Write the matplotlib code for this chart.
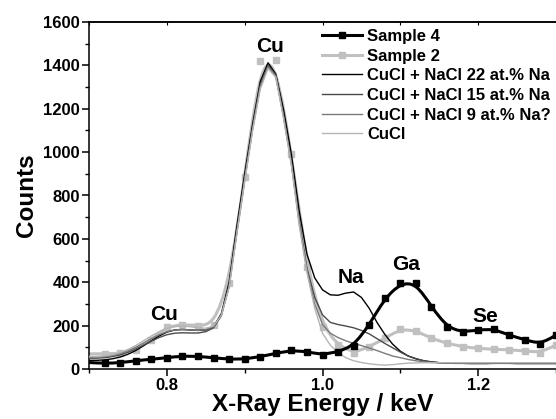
import numpy as np
import matplotlib
matplotlib.use("Agg")
import matplotlib.pyplot as plt
from matplotlib.ticker import MultipleLocator
from matplotlib.path import Path
from matplotlib.patches import PathPatch
from matplotlib.lines import Line2D

plt.rcParams['font.family'] = ['Liberation Sans', 'DejaVu Sans']
plt.rcParams['font.weight'] = 'bold'

# measured spectra, one point every 0.02 keV
energy_meas = np.round(np.arange(0.70, 1.301, 0.02), 2)
sample4 = [30, 26, 29, 38, 45, 52, 60, 58, 52, 45, 46, 57, 72, 86, 80, 65,
           80, 106, 203, 326, 395, 398, 287, 192, 170, 180, 185, 155, 136, 113, 157]
sample2 = [70, 70, 72, 88, 134, 195, 205, 200, 203, 395, 887, 1418, 1425, 993, 472, 195,
           111, 72, 103, 141, 185, 177, 141, 118, 103, 95, 91, 88, 84, 75, 111]

# simulated spectra, one point every 0.01 keV
energy_sim = np.round(np.arange(0.70, 1.301, 0.01), 2)
sim_22 = [40, 40, 42, 47, 55, 68, 85, 107, 130, 152, 170, 180, 182, 180, 178, 180, 195, 255,
          400, 660, 900, 1125, 1325, 1412, 1360, 1195, 990, 730, 530, 420, 365, 342, 340, 350,
          355, 330, 280, 215, 160, 115, 82, 60, 47, 38, 33, 29,
          27, 26, 26, 25, 25, 25, 26, 26, 26, 25, 25, 25, 25, 25, 25]
sim_15 = [50, 50, 52, 57, 65, 77, 92, 110, 128, 145, 158, 165, 167, 166, 166, 172, 190, 245,
          385, 640, 880, 1110, 1310, 1400, 1355, 1170, 955, 685, 465, 330, 250, 215, 205, 198,
          190, 178, 162, 140, 118, 98, 78, 60, 48, 38, 32, 29,
          28, 27, 27, 27, 27, 27, 28, 28, 28, 27, 27, 27, 27, 27, 27]
sim_9 = [55, 55, 57, 62, 71, 84, 100, 120, 140, 158, 172, 180, 182, 180, 178, 182, 195, 248,
         380, 630, 870, 1100, 1300, 1393, 1350, 1160, 945, 675, 455, 300, 205, 165, 145, 130,
         118, 108, 97, 85, 72, 60, 52, 44, 38, 33, 30, 29,
         28, 28, 28, 28, 28, 28, 28, 28, 28, 28, 28, 28, 28, 28, 28]
sim_cucl = [58, 58, 60, 66, 76, 90, 108, 130, 152, 172, 188, 196, 198, 195, 190, 188, 198, 248,
            375, 625, 865, 1095, 1290, 1385, 1345, 1155, 940, 665, 445, 280, 165, 110, 75, 52,
            38, 30, 24, 20, 18, 20, 24, 27, 28, 29, 29, 29,
            29, 29, 29, 29, 29, 29, 29, 29, 29, 29, 29, 29, 29, 29, 29]

labels = ["Sample 4", "Sample 2", "CuCl + NaCl 22 at.% Na", "CuCl + NaCl 15 at.% Na",
          "CuCl + NaCl 9 at.% Na?", "CuCl"]
peaks = [("Cu", 0.933, 1485), ("Cu", 0.797, 249), ("Na", 1.036, 420),
         ("Ga", 1.108, 484), ("Se", 1.209, 244)]


def bspline_path(x, y):
    # B-spline connection (like Origin's), as cubic Bezier segments of the data polygon
    p = np.column_stack([x, y]).astype(float)
    p = np.vstack([p[0], p[0], p, p[-1], p[-1]])
    verts, codes = [], []
    for i in range(len(p) - 3):
        p0, p1, p2, p3 = p[i:i + 4]
        if i == 0:
            verts.append((p0 + 4 * p1 + p2) / 6)
            codes.append(Path.MOVETO)
        verts += [(2 * p1 + p2) / 3, (p1 + 2 * p2) / 3, (p1 + 4 * p2 + p3) / 6]
        codes += [Path.CURVE4] * 3
    return Path(verts, codes)


fig = plt.figure(figsize=(5.56, 4.19), dpi=100)
ax = fig.add_axes([89 / 556, 50 / 419, 467 / 556, 347 / 419])

c_s4, c_s2 = 'black', '#c0c0c0'
sim_styles = [(sim_22, 'black'), (sim_15, '#4a4a4a'), (sim_9, '#7a7a7a'), (sim_cucl, '#b4b4b4')]

ax.add_patch(PathPatch(bspline_path(energy_meas, sample2), fill=False, ec=c_s2, lw=2.2, zorder=2))
ax.plot(energy_meas, sample2, ls='none', marker='s', ms=4.5, color=c_s2, markevery=slice(1, None), zorder=2)
for ys, c in sim_styles:
    ax.plot(energy_sim, ys, color=c, lw=1.0, zorder=3)
ax.add_patch(PathPatch(bspline_path(energy_meas, sample4), fill=False, ec=c_s4, lw=2.2, zorder=5))
ax.plot(energy_meas, sample4, ls='none', marker='s', ms=4.5, color=c_s4, markevery=slice(1, None), zorder=5)

for name, x, y in peaks:
    ax.text(x, y, name, ha='center', va='center', fontsize=15, fontweight='bold')

ax.set_xlim(0.7, 1.3)
ax.set_ylim(0, 1600)
ax.xaxis.set_major_locator(MultipleLocator(0.2))
ax.xaxis.set_minor_locator(MultipleLocator(0.1))
ax.yaxis.set_major_locator(MultipleLocator(200))
ax.yaxis.set_minor_locator(MultipleLocator(100))
ax.set_xticks([0.8, 1.0, 1.2])
ax.set_xticklabels(['0.8', '1.0', '1.2'])

ax.spines['right'].set_visible(False)
for s in ['left', 'bottom', 'top']:
    ax.spines[s].set_linewidth(1.1)
ax.tick_params(which='major', direction='out', length=5, width=1.1, labelsize=12, pad=1.5)
ax.tick_params(which='minor', direction='out', length=3, width=1.0)

top = ax.secondary_xaxis('top')
top.xaxis.set_major_locator(MultipleLocator(0.1))
top.tick_params(which='major', direction='in', length=2, width=0.8, labeltop=False)
top.spines['top'].set_linewidth(1.1)

ax.set_xlabel('X-Ray Energy / keV', fontsize=17.5, fontweight='bold', labelpad=0)
ax.set_ylabel('Counts', fontsize=17.5, fontweight='bold', labelpad=4)

handles = [Line2D([], [], color=c_s4, lw=2.2, marker='s', ms=4.5),
           Line2D([], [], color=c_s2, lw=2.2, marker='s', ms=4.5)]
handles += [Line2D([], [], color=c, lw=1.0) for _, c in sim_styles]
ax.legend(handles, labels, loc='upper left', bbox_to_anchor=(322 / 556, 1 - 29 / 419),
          bbox_transform=fig.transFigure, frameon=False, handlelength=2.4, handletextpad=0.3,
          labelspacing=0.28, borderpad=0, borderaxespad=0, prop={'weight': 'bold', 'size': 12})

fig.savefig('out.png', dpi=100)
